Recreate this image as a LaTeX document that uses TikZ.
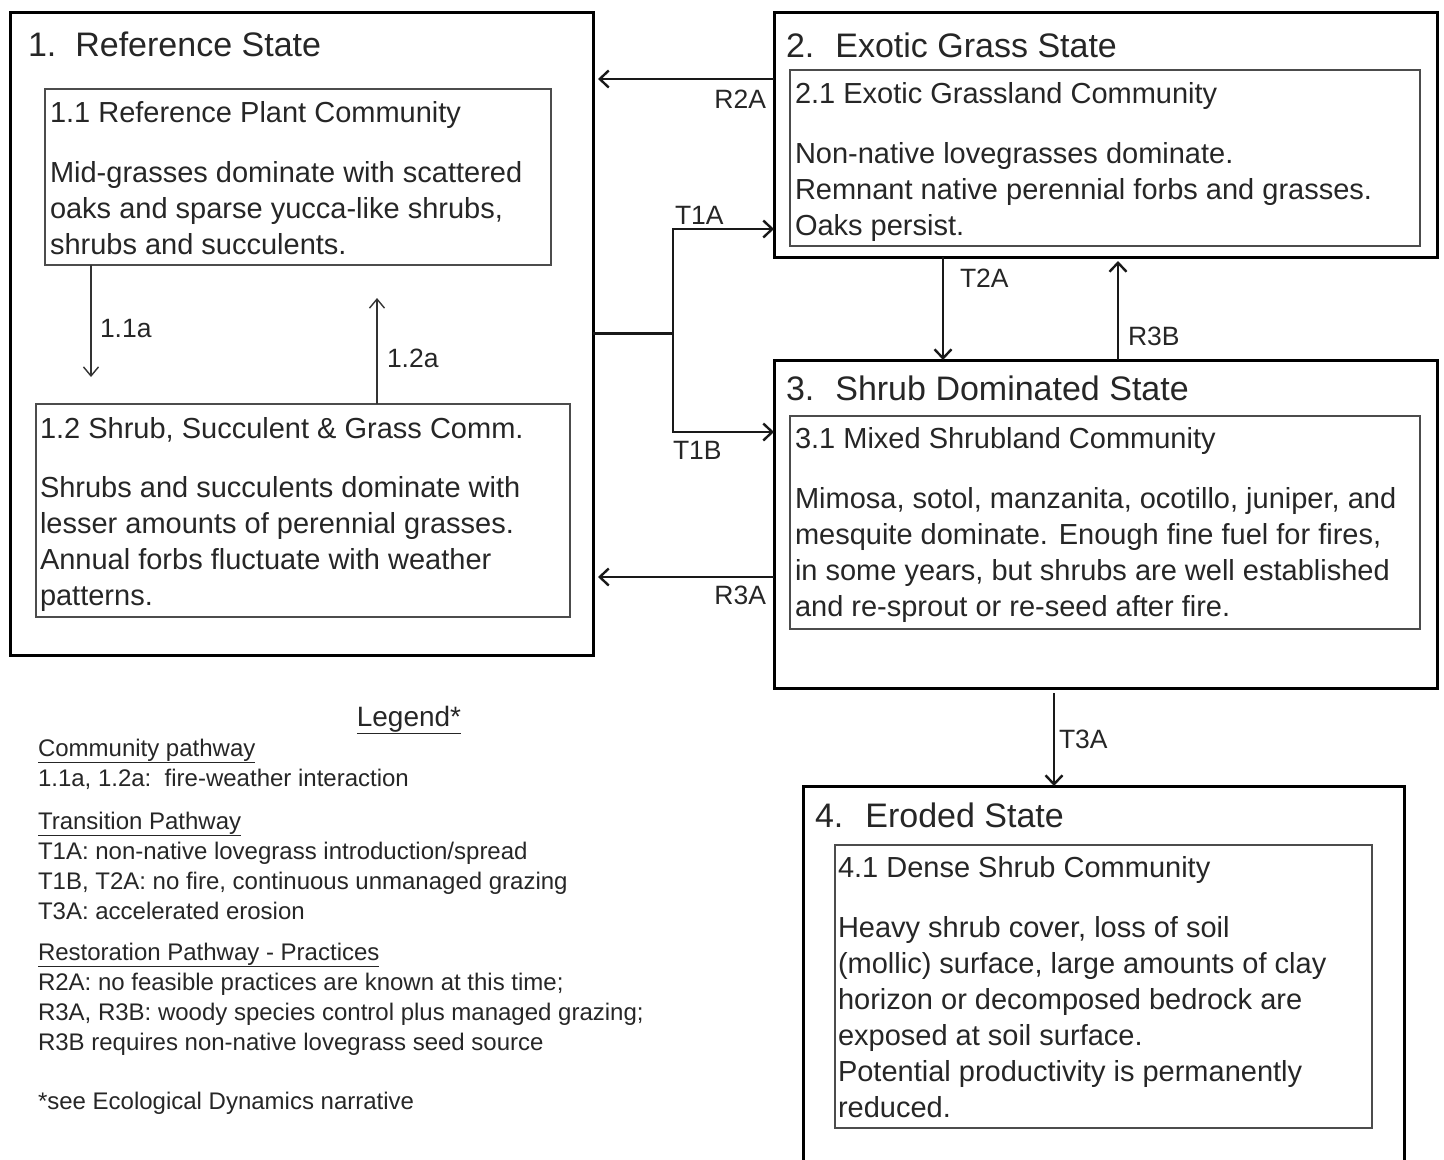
\documentclass[tikz,border=0pt]{standalone}
\usepackage{fontspec}
\setmainfont{Liberation Sans}
\usetikzlibrary{arrows.meta}

\begin{document}
\begin{tikzpicture}[x=1pt,y=-1pt]
      \tikzset{every node/.style={inner sep=0pt, outer sep=0pt, text=black!85}}
      \tikzset{statebox/.style={draw=black, line width=3pt, rectangle, anchor=north west}}
      \tikzset{commbox/.style={draw=black!70, line width=1.6pt, rectangle, anchor=north west}}
      \tikzset{statetitle/.style={anchor=base west, font=\fontsize{34}{40}\selectfont}}
      \tikzset{commtext/.style={anchor=base west, align=left, font=\fontsize{29}{36}\selectfont}}
      \tikzset{lbl/.style={font=\fontsize{26.5}{30}\selectfont}}
      \tikzset{trans/.style={draw=black!90, line width=2.6pt, -{Straight Barb[length=9pt,width=17pt,line width=2.4pt]}}}
      \tikzset{commpath/.style={draw=black!80, line width=1.4pt, -{Straight Barb[length=9pt,width=15pt,line width=1.4pt]}}}
      \useasboundingbox (0,0) rectangle (1444,1160);
      % \foreach \y in {0,100,...,1100} {
      %   \draw[gray, dashed] (0,\y) -- (1444,\y);
      % }

      % states
      \node[statebox, minimum width=583, minimum height=643] (s1) at (10,12) {};
      \node[statebox, minimum width=663, minimum height=245] (s2) at (774,12) {};
      \node[statebox, minimum width=663, minimum height=328] (s3) at (774,360) {};
      \begin{scope}
        \clip (0,0) rectangle (1444,1160);
        \node[statebox, minimum width=601, minimum height=390] (s4) at (803,786) {};
      \end{scope}

      \node[statetitle] (h1) at (28,56) {1.\hspace{19pt}Reference State};
      \node[statetitle] (h2) at (786,57) {2.\hspace{21pt}Exotic Grass State};
      \node[statetitle] (h3) at (786,400) {3.\hspace{21pt}Shrub Dominated State};
      \node[statetitle] (h4) at (815,827) {4.\hspace{22pt}Eroded State};

      % communities (multi-line text sits on its last baseline)
      \node[commbox, minimum width=506, minimum height=176] (c11) at (45,89) {};
      \node[commbox, minimum width=534, minimum height=213] (c12) at (36,404) {};
      \node[commbox, minimum width=630, minimum height=176] (c21) at (790,70) {};
      \node[commbox, minimum width=630, minimum height=213] (c31) at (790,416) {};
      \node[commbox, minimum width=537, minimum height=283] (c41) at (835,845) {};

      \node[commtext] (n11) at (50,122) {1.1 Reference Plant Community};
      \node[commtext] (b11) at (50,254) {Mid-grasses dominate with scattered\\
        oaks and sparse yucca-like shrubs,\\ shrubs and succulents.};
      \node[commtext] (n12) at (40,438) {1.2 Shrub, Succulent \& Grass Comm.};
      \node[commtext] (b12) at (40,605) {Shrubs and succulents dominate with\\
        lesser amounts of perennial grasses.\\ Annual forbs fluctuate with weather\\ patterns.};
      \node[commtext] (n21) at (795,103) {2.1 Exotic Grassland Community};
      \node[commtext] (b21) at (795,235) {Non-native lovegrasses dominate.\\
        Remnant native perennial forbs and grasses.\\ Oaks persist.};
      \node[commtext] (n31) at (795,448) {3.1 Mixed Shrubland Community};
      \node[commtext] (b31) at (795,616) {Mimosa, sotol, manzanita, ocotillo, juniper, and\\
        mesquite dominate. Enough fine fuel for fires,\\ in some years, but shrubs are well established\\
        and re-sprout or re-seed after fire.};
      \node[commtext] (n41) at (838,877) {4.1 Dense Shrub Community};
      \node[commtext] (b41) at (838,1117) {Heavy shrub cover, loss of soil\\
        (mollic) surface, large amounts of clay\\ horizon or decomposed bedrock are\\
        exposed at soil surface.\\ Potential productivity is permanently\\ reduced.};

      % community pathways
      \coordinate (a11) at (91,377);
      \coordinate (a12) at (377,298);
      \draw[commpath] (c11.south -| a11) -- (a11);
      \draw[commpath] (c12.north -| a12) -- (a12);
      \node[lbl, anchor=base west] (l11) at (100,337) {1.1a};
      \node[lbl, anchor=base west] (l12) at (387,367) {1.2a};

      % transitions and restorations
      \coordinate (j1) at (673,333.5);
      \coordinate (k1) at (673,229);
      \coordinate (k2) at (673,432);
      \coordinate (r2) at (0,79);
      \coordinate (r3) at (0,577);
      \coordinate (t2) at (943,0);
      \coordinate (q3) at (1118,0);
      \coordinate (t3) at (1054,0);
      \draw[trans, -] (s1.east) -- (j1);
      \draw[trans] (j1) |- (k1 -| s2.west);
      \draw[trans] (j1) |- (k2 -| s3.west);
      \draw[trans, shorten >=5pt] (s2.west |- r2) -- (s1.east |- r2);
      \draw[trans, shorten >=5pt] (s3.west |- r3) -- (s1.east |- r3);
      \draw[trans] (s2.south -| t2) -- (s3.north -| t2);
      \draw[trans, shorten >=4pt] (s3.north -| q3) -- (s2.south -| q3);
      \draw[trans, line width=2pt, shorten <=5pt] (s3.south -| t3) -- (s4.north -| t3);

      \node[lbl, anchor=base west] (lt1a) at (675,224) {T1A};
      \node[lbl, anchor=base west] (lt1b) at (673,459) {T1B};
      \node[lbl, anchor=base east] (lr2a) at (766,108) {R2A};
      \node[lbl, anchor=base east] (lr3a) at (766,604) {R3A};
      \node[lbl, anchor=base west] (lt2a) at (960,287) {T2A};
      \node[lbl, anchor=base west] (lr3b) at (1128,345) {R3B};
      \node[lbl, anchor=base west] (lt3a) at (1059,748) {T3A};

      % legend
      \node[anchor=base, font=\fontsize{28}{32}\selectfont] (lg) at (409,726) {\underline{Legend*}};
      \node[anchor=base west, align=left, font=\fontsize{24}{30}\selectfont] (lgt) at (38,1109) {%
        \underline{Community pathway}\\
        1.1a, 1.2a:\ \ fire-weather interaction\\[13pt]
        \underline{Transition Pathway}\\
        T1A: non-native lovegrass introduction/spread\\
        T1B, T2A: no fire, continuous unmanaged grazing\\
        T3A: accelerated erosion\\[11pt]
        \underline{Restoration Pathway - Practices}\\
        R2A: no feasible practices are known at this time;\\
        R3A, R3B: woody species control plus managed grazing;\\
        R3B requires non-native lovegrass seed source\\[29pt]
        *see Ecological Dynamics narrative};
    \end{tikzpicture}
\end{document}
